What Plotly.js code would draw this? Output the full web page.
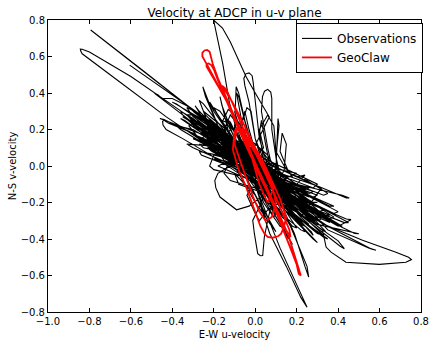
<!DOCTYPE html>
<html>
<head>
<meta charset="utf-8">
<script src="https://cdn.plot.ly/plotly-3.0.1.min.js"></script>
<style>html,body{margin:0;padding:0;background:#fff;}#chart{width:430px;height:340px;}</style>
</head>
<body>
<div id="chart"></div>
<script>
const obsPath = [
[-0.606,0.553],[-0.45,0.43],[-0.25,0.27],[-0.05,0.08],[0.15,-0.12],[0.30,-0.25],[0.33,-0.27],[0.28,-0.22],[0.10,-0.06],[-0.10,0.10],[-0.30,0.27],[-0.33,0.32],[-0.31,0.31],[-0.15,0.17],[0.05,-0.02],[0.22,-0.18],[0.35,-0.30],[0.36,-0.31],[0.30,-0.28],[0.12,-0.14],[-0.08,0.05],
[-0.28,0.29],[-0.55,0.53],[-0.794,0.745],[-0.78,0.735],[-0.53,0.51],[-0.27,0.28],[-0.05,0.08],[0.2,-0.1],[0.42,-0.16],[0.454,-0.175],[0.44,-0.175],[0.26,-0.09],[0.05,0.02],[-0.15,0.13],
[-0.365,0.306],[-0.6,0.49],[-0.8,0.625],[-0.835,0.64],[-0.844,0.641],[-0.842,0.63],[-0.835,0.615],[-0.7,0.5],[-0.429,0.269],[-0.22,0.11],[0.0,-0.06],[0.2,-0.2],[0.40,-0.33],[0.462,-0.294],[0.44,-0.29],[0.25,-0.2],[0.05,-0.05],[-0.12,0.1],[-0.30,0.26],[-0.36,0.30],[-0.35,0.28],[-0.2,0.15],[0.0,0.0],[0.15,-0.16],[0.30,-0.32],[0.50,-0.371],[0.48,-0.37],[0.3,-0.27],[0.08,-0.1],[-0.1,0.06],[-0.3,0.2],[-0.38,0.22],[-0.36,0.2],[-0.2,0.09],
[-0.3,0.18],[-0.42,0.235],[-0.44,0.25],[-0.447,0.245],[-0.445,0.225],[-0.43,0.2],[-0.35,0.15],[-0.2,0.05],[0.0,-0.1],[0.2,-0.25],[0.40,-0.41],[0.43,-0.453],[0.41,-0.44],[0.25,-0.3],[0.05,-0.12],[-0.15,0.06],[-0.35,0.28],[-0.486,0.398],[-0.47,0.39],[-0.45,0.37],[-0.40,0.37],[-0.33,0.33],[-0.25,0.27],[-0.05,0.1],[0.15,-0.1],[0.35,-0.35],[0.55,-0.45],[0.583,-0.462],[0.56,-0.455],[0.35,-0.33],[0.12,-0.15],[-0.05,0.0],
[0.068,0.269],[0.0,0.40],[-0.044,0.489],[-0.12,0.68],[-0.158,0.756],[-0.201,0.8],[-0.18,0.68],[-0.157,0.562],[-0.124,0.344],[-0.08,0.15],[-0.02,-0.05],[0.05,-0.25],[0.12,-0.45],[0.20,-0.65],[0.25,-0.774],[0.22,-0.72],[0.15,-0.55],[0.07,-0.37],[0.02,-0.2],[-0.05,-0.05],[-0.15,0.12],
[-0.25,0.25],[-0.2,0.2],[-0.05,0.05],[0.1,-0.15],[0.189,-0.369],[0.24,-0.55],[0.258,-0.609],[0.25,-0.55],[0.17,-0.33],[0.08,-0.15],[-0.05,0.05],[-0.18,0.22],[-0.253,0.434],[-0.24,0.38],[-0.18,0.22],[-0.05,0.05],[0.08,-0.1],[0.22,-0.28],[0.26,-0.32],[0.2,-0.28],[0.05,-0.12],
[-0.12,0.0],[-0.18,-0.04],[-0.195,-0.08],[-0.19,-0.12],[-0.17,-0.17],[-0.09,-0.24],[-0.03,-0.22],[0.05,-0.15],[0.0,0.0],[-0.1,0.2],[-0.092,0.434],[-0.08,0.40],[-0.05,0.25],[0.0,0.05],[0.05,-0.1],
[0.03,-0.2],[-0.012,-0.298],[-0.004,-0.371],[0.012,-0.48],[0.025,-0.492],[0.036,-0.49],[0.044,-0.389],[0.06,-0.3],[0.08,-0.2],[0.05,-0.05],
[0.0,0.15],[-0.03,0.35],[-0.05,0.44],[-0.055,0.48],[-0.045,0.505],[-0.03,0.51],[-0.015,0.495],[-0.01,0.46],[0.0,0.35],[0.02,0.15],[0.06,0.0],[0.1,-0.1],[0.15,-0.2],[0.1,-0.1],[0.06,0.1],[0.03,0.3],[0.035,0.38],[0.045,0.41],[0.06,0.42],[0.075,0.405],[0.08,0.37],[0.08,0.2],[0.1,0.05],[0.12,-0.05],[0.14,-0.15],[0.1,-0.02],[0.11,0.26],[0.115,0.22],[0.1,0.05],[0.12,-0.12],
[0.2,-0.22],[0.3,-0.33],[0.325,-0.353],[0.342,-0.444],[0.366,-0.472],[0.438,-0.527],[0.599,-0.539],[0.727,-0.527],[0.745,-0.52],[0.754,-0.513],[0.74,-0.5],[0.679,-0.472],[0.518,-0.407],[0.325,-0.316],[0.15,-0.18],[-0.05,0.0],[-0.2,0.16],[-0.3,0.25],
[-0.32,0.25],[-0.1,0.05],[0.15,-0.18],[0.32,-0.35],[0.34,-0.36],[0.25,-0.25],[0.0,-0.02],[-0.22,0.2],[-0.29,0.33],[-0.27,0.3],[-0.1,0.1],[0.1,-0.08],[0.38,-0.22],[0.36,-0.22],[0.15,-0.1],[-0.05,0.05],[-0.22,0.18],[-0.26,0.15],[-0.24,0.13],[-0.05,0.0],[0.12,-0.2],[0.20,-0.34],[0.18,-0.33],[0.05,-0.15],[-0.1,0.05],[-0.17,0.38],[-0.16,0.33],[-0.1,0.15],[0.0,-0.05],[0.1,-0.22],[0.15,-0.30],[0.13,-0.28],[0.05,-0.12],[-0.08,0.1],[-0.22,0.35],[-0.2,0.3],[-0.08,0.1],[0.05,-0.05],[0.25,-0.15],[0.26,-0.17],[0.1,-0.1],[-0.1,0.08],[-0.31,0.18],[-0.28,0.16],[-0.12,0.07],[0.05,-0.08],[0.28,-0.38],[0.27,-0.36],[0.1,-0.18],[-0.05,0.02],[-0.15,0.2],[-0.12,0.28],[-0.1,0.25],[-0.03,0.1],[0.05,-0.1],[0.16,-0.4],[0.15,-0.38],[0.08,-0.2],[0.0,0.0],[-0.14,0.2],[-0.25,0.3],[-0.24,0.28],[-0.1,0.12],[0.05,-0.05],[0.22,-0.28],[0.32,-0.12],[0.3,-0.11],[0.12,-0.04],[-0.05,0.08],[-0.2,0.22],[-0.4,0.35],[-0.38,0.34],[-0.2,0.2],[0.0,0.0],[0.2,-0.18],[0.42,-0.33],[0.4,-0.32],[0.2,-0.2],[0.0,-0.02],[-0.07,0.22],[-0.05,0.3],[-0.03,0.2],[0.02,0.0],[0.08,-0.15],[0.1,-0.22],[0.06,-0.1],[0.02,0.18],[0.03,0.25],[0.05,0.12],[0.08,-0.05],[0.2,-0.1],[0.24,-0.05],[0.2,-0.06],[0.05,0.02],[-0.1,0.1],[-0.33,0.12],[-0.3,0.1],[-0.1,0.0],[0.0,-0.2],[0.05,-0.28],[0.04,-0.25],[0.0,-0.1],[-0.2,0.15],[-0.27,0.36],[-0.25,0.34],[-0.12,0.15],[0.0,-0.02],[0.18,-0.18],[0.3,-0.2],[0.28,-0.2],[0.1,-0.08],[-0.06,0.05],[-0.24,0.26],[-0.22,0.25],[-0.05,0.05],[0.14,-0.05],[0.15,-0.08],[0.05,-0.05],[-0.05,0.15],[-0.09,0.40],[-0.08,0.38],[-0.04,0.2],[0.02,0.0],[0.1,-0.15],[0.36,-0.27],[0.34,-0.27],[0.12,-0.12],[-0.02,0.03],[-0.2,0.15],[-0.46,0.26],[-0.44,0.255],[-0.2,0.12],[0.0,-0.05],[0.2,-0.3],[0.3,-0.42],[0.28,-0.4],[0.15,-0.25],[0.0,-0.05],[-0.1,0.1],
[-0.3,0.22],[-0.15,0.12],[0.1,-0.1],[0.33,-0.24],[0.31,-0.25],[0.08,-0.12],[-0.12,0.06],[-0.34,0.2],[-0.32,0.19],[-0.1,0.04],[0.12,-0.14],[0.29,-0.3],[0.27,-0.3],[0.06,-0.16],[-0.14,0.1],[-0.28,0.25],[-0.26,0.23],[-0.06,0.06],[0.15,-0.2],[0.24,-0.36],[0.22,-0.35],[0.04,-0.18],[-0.08,0.0],[-0.23,0.1],[-0.21,0.08],[-0.02,-0.04],[0.18,-0.12],[0.4,-0.25],[0.38,-0.26],[0.16,-0.14],[-0.04,0.04],[-0.18,0.28],[-0.2,0.32],[-0.17,0.3],[-0.06,0.12],[0.04,-0.06],[0.2,-0.24],[0.33,-0.38],[0.3,-0.37],[0.14,-0.22],[0.0,-0.08],[-0.13,0.14],[-0.3,0.3],[-0.28,0.29],[-0.1,0.14],[0.02,-0.02],[0.12,-0.08],[0.28,-0.14],[0.26,-0.15],[0.08,-0.06],[-0.1,0.04],[-0.27,0.08],[-0.26,0.06],[-0.08,-0.02],[0.06,-0.14],[0.18,-0.26],[0.35,-0.4],[0.33,-0.39],[0.12,-0.2],[-0.02,-0.02],[-0.16,0.24],[-0.13,0.31],[-0.11,0.29],[-0.04,0.12],[0.06,-0.08],[0.22,-0.22],[0.28,-0.26],[0.24,-0.24],[0.06,-0.1],[-0.06,0.02],[-0.2,0.06],[-0.22,0.0],[-0.2,-0.02],[-0.05,-0.06],[0.08,-0.16],[0.14,-0.34],[0.12,-0.33],[0.04,-0.2],[-0.02,0.0],[-0.08,0.18],[-0.04,0.32],[-0.02,0.3],[0.0,0.15],[0.06,-0.02],[0.16,-0.1],[0.3,-0.16],[0.28,-0.17],[0.12,-0.1],[-0.02,0.02],[-0.18,0.12],[-0.36,0.26],[-0.34,0.25],[-0.16,0.1],[0.02,-0.06],[0.1,-0.28],[0.18,-0.43],[0.17,-0.41],[0.08,-0.24],[0.0,-0.1],[-0.12,0.04],[-0.15,-0.04],[-0.12,-0.08],[0.0,-0.12],[0.14,-0.2],[0.26,-0.27],[0.24,-0.28],[0.1,-0.16],[-0.04,0.08],[-0.1,0.3],[-0.08,0.22],[0.0,0.05],[0.04,0.1],[0.02,0.2],[0.06,0.28],[0.09,0.22],[0.1,0.08],[0.14,0.0],[0.18,-0.06],[0.16,-0.03],[0.12,0.08],[0.13,0.18],[0.15,0.12],[0.14,-0.02],[0.1,-0.12],[0.0,-0.04],[-0.14,0.08],[-0.25,0.2],[-0.24,0.17],[-0.08,0.08],[0.0,0.02],
[-0.35,0.27],[-0.1,0.12],[0.15,-0.02],[0.3,-0.1],[0.28,-0.12],[0.05,-0.02],[-0.2,0.12],[-0.3,0.15],[-0.28,0.14],[-0.05,0.0],[0.2,-0.15],[0.38,-0.28],[0.36,-0.29],[0.15,-0.16],[-0.05,-0.02],[-0.25,0.12],[-0.32,0.22],[-0.3,0.23],[-0.12,0.12],[0.08,0.0],[0.25,-0.08],[0.35,-0.15],[0.33,-0.16],[0.1,-0.06],[-0.1,0.06],[-0.25,0.18],[-0.33,0.28],[-0.3,0.28],[-0.15,0.18],[0.0,0.08],[0.15,-0.06],[0.22,-0.12],[0.2,-0.13],[0.0,-0.03],[-0.15,0.03],[-0.22,0.14],[-0.2,0.24],[-0.18,0.2],[-0.06,0.08],[0.08,-0.04],[0.3,-0.22],[0.45,-0.31],[0.43,-0.31],[0.25,-0.23],[0.05,-0.08],[-0.08,0.04],[-0.18,0.09],
[-0.12,0.2],[-0.05,0.05],[0.04,-0.12],[0.1,-0.26],[0.09,-0.28],[0.02,-0.14],[-0.06,0.02],[-0.14,0.18],[-0.16,0.25],[-0.14,0.24],[-0.06,0.08],[0.02,-0.08],[0.08,-0.2],[0.12,-0.24],[0.1,-0.24],[0.04,-0.12],[-0.04,0.04],[-0.1,0.16],[-0.12,0.14],[-0.06,0.02],[0.0,-0.1],[0.06,-0.16],[0.04,-0.17],[-0.02,-0.06],[-0.08,0.08],[-0.1,0.12],[-0.02,0.12],[0.02,0.02],[0.08,-0.1],[0.16,-0.22],[0.14,-0.23],[0.06,-0.12],[0.0,-0.02],[-0.06,0.12],[-0.08,0.16],[-0.04,0.06],[0.02,-0.04],[0.06,-0.06],[0.1,-0.04],[0.04,0.02],[-0.02,0.1],[-0.12,0.1],[-0.16,0.06],[-0.1,0.02],[0.0,-0.06],[0.1,-0.1],[0.2,-0.2],[0.18,-0.21],[0.08,-0.14],[-0.02,-0.08],[-0.1,-0.04],[-0.08,-0.1],[0.02,-0.14],[0.1,-0.18],[0.08,-0.06],[0.02,0.06],[-0.04,0.14],[-0.1,0.22],[-0.08,0.24],[-0.04,0.16],[0.02,0.1],[0.06,0.04],[0.12,-0.02],[0.2,-0.04],[0.16,-0.06],[0.06,-0.02],[-0.04,0.0],[-0.14,0.02],[-0.18,0.0],
[-0.1,-0.04],[0.0,-0.16],[0.06,-0.3],[0.1,-0.36],[0.09,-0.34],[0.04,-0.24],[-0.02,-0.12],[-0.04,-0.16],[0.0,-0.26],[0.02,-0.3],[0.06,-0.24],[0.12,-0.2],[0.22,-0.32],[0.24,-0.33],[0.14,-0.24],[0.04,-0.12],[0.0,0.0],
[-0.22,0.26],[-0.02,0.06],[0.18,-0.1],[0.26,-0.12],[0.24,-0.13],[0.0,0.0],[-0.2,0.1],[-0.27,0.12],[-0.25,0.1],[-0.08,0.06],[0.06,-0.06],[0.22,-0.2],[0.32,-0.29],[0.3,-0.3],[0.18,-0.22],[0.02,-0.1],[-0.12,0.02],[-0.2,0.04],[-0.18,0.03],[-0.06,-0.02],[0.06,-0.1],[0.26,-0.22],[0.24,-0.23],[0.1,-0.12],[-0.04,0.02],[-0.16,0.16],[-0.26,0.22],[-0.24,0.21],[-0.1,0.1],[0.04,0.0],[0.14,-0.12],[0.2,-0.16],[0.18,-0.17],[0.06,-0.08],[-0.06,0.04],[-0.14,0.14],[-0.2,0.18],[-0.19,0.17],[-0.08,0.04],[0.02,-0.08],[0.12,-0.16],[0.16,-0.14],[0.08,-0.04],[-0.02,0.06],[-0.08,0.14],[0.0,0.12],[0.06,0.06],[0.1,-0.02],[0.04,-0.04],[-0.04,0.1],[-0.14,0.26],[-0.12,0.24],[-0.06,0.1],[0.0,-0.02],[0.08,-0.12],[0.2,-0.28],[0.18,-0.27],[0.06,-0.12],[-0.02,0.0]
];

// GeoClaw model velocity path (u, v) pairs
const geoPath = [
[-0.02,0.05],[-0.08,0.2],[-0.14,0.36],[-0.19,0.47],[-0.23,0.55],[-0.255,0.6],[-0.255,0.62],[-0.245,0.633],[-0.232,0.636],[-0.22,0.626],[-0.215,0.6],[-0.205,0.56],[-0.18,0.48],[-0.14,0.37],[-0.1,0.27],[-0.05,0.14],[0.0,0.02],[0.05,-0.1],[0.09,-0.2],[0.13,-0.3],[0.16,-0.38],[0.18,-0.45],[0.2,-0.52],[0.215,-0.57],[0.22,-0.6],[0.21,-0.59],[0.2,-0.54],[0.17,-0.45],[0.14,-0.36],[0.1,-0.25],[0.06,-0.14],[0.02,-0.03],[-0.03,0.1],[-0.08,0.22],[-0.13,0.34],[-0.18,0.44],[-0.215,0.51],[-0.235,0.545],[-0.235,0.558],[-0.225,0.562],[-0.212,0.553],[-0.2,0.53],[-0.18,0.47],[-0.15,0.39],[-0.11,0.29],[-0.07,0.18],[-0.03,0.08],[0.02,-0.05],[0.06,-0.15],[0.1,-0.25],[0.13,-0.32],[0.16,-0.37],[0.17,-0.39],[0.165,-0.35],[0.14,-0.28],[0.1,-0.17],[0.06,-0.07],[0.01,0.05],[-0.04,0.15],[-0.08,0.22],[-0.1,0.19],[-0.108,0.09],[-0.08,-0.02],[-0.044,-0.115],[-0.02,-0.19],[0.004,-0.26],[0.025,-0.33],[0.044,-0.37],[0.06,-0.388],[0.084,-0.393],[0.11,-0.385],[0.125,-0.371],[0.14,-0.33],[0.149,-0.28],[0.12,-0.18],[0.08,-0.08],[0.04,0.02],[0.0,0.1],[-0.05,0.2],[-0.09,0.2],[-0.1,0.12],[-0.07,0.02],[-0.04,-0.08],[-0.01,-0.17],[0.02,-0.25],[0.05,-0.3],[0.08,-0.28],[0.1,-0.2],[0.08,-0.1],[0.04,0.0],[-0.01,0.12],[-0.06,0.24],[-0.11,0.35],[-0.16,0.44],[-0.14,0.42],[-0.1,0.32],[-0.05,0.18],[-0.02,0.06],[0.02,-0.1],[0.06,-0.2],[0.09,-0.12],[0.05,-0.02],[0.0,0.08],[-0.04,0.16],[-0.02,0.06]
];

const seriesNames = ["Observations", "GeoClaw"];
const titleText = "Velocity at ADCP in u-v plane";
const xTitle = "E-W u-velocity";
const yTitle = "N-S v-velocity";

const font = "DejaVu Sans, Liberation Sans, sans-serif";

const traces = [
  {
    type: "scatter", mode: "lines", name: seriesNames[0],
    x: obsPath.map(p => p[0]), y: obsPath.map(p => p[1]),
    line: {color: "#000000", width: 1.1}
  },
  {
    type: "scatter", mode: "lines", name: seriesNames[1],
    x: geoPath.map(p => p[0]), y: geoPath.map(p => p[1]),
    line: {color: "#ff0000", width: 1.8}
  }
];

const axisCommon = {
  showgrid: false, zeroline: false, showline: true, linecolor: "#000", linewidth: 1,
  mirror: "ticks", ticks: "inside", ticklen: 4, tickwidth: 1, tickcolor: "#000",
  tickfont: {family: font, size: 10, color: "#000"}, tickformat: ".1f", dtick: 0.2
};

const layout = {
  width: 430, height: 340,
  margin: {l: 48, r: 8, t: 20, b: 28},
  paper_bgcolor: "#fff", plot_bgcolor: "#fff",
  font: {family: font, color: "#000"},
  title: {text: titleText, font: {family: font, size: 12, color: "#000"}, x: 0.5, xref: "paper", y: 0.962, yref: "container", yanchor: "middle"},
  xaxis: Object.assign({}, axisCommon, {range: [-1.0, 0.8], tick0: -1.0, title: {text: xTitle, font: {family: font, size: 10}, standoff: 4}}),
  yaxis: Object.assign({}, axisCommon, {range: [-0.8, 0.8], tick0: -0.8, title: {text: yTitle, font: {family: font, size: 10}, standoff: 2}}),
  showlegend: true,
  legend: {x: 0.663, y: 0.99, xanchor: "left", yanchor: "top", bgcolor: "#fff", bordercolor: "#000", borderwidth: 1, font: {family: font, size: 12, color: "#000"}, tracegroupgap: 0}
};

Plotly.newPlot("chart", traces, layout, {staticPlot: true, displayModeBar: false});
</script>
</body>
</html>
